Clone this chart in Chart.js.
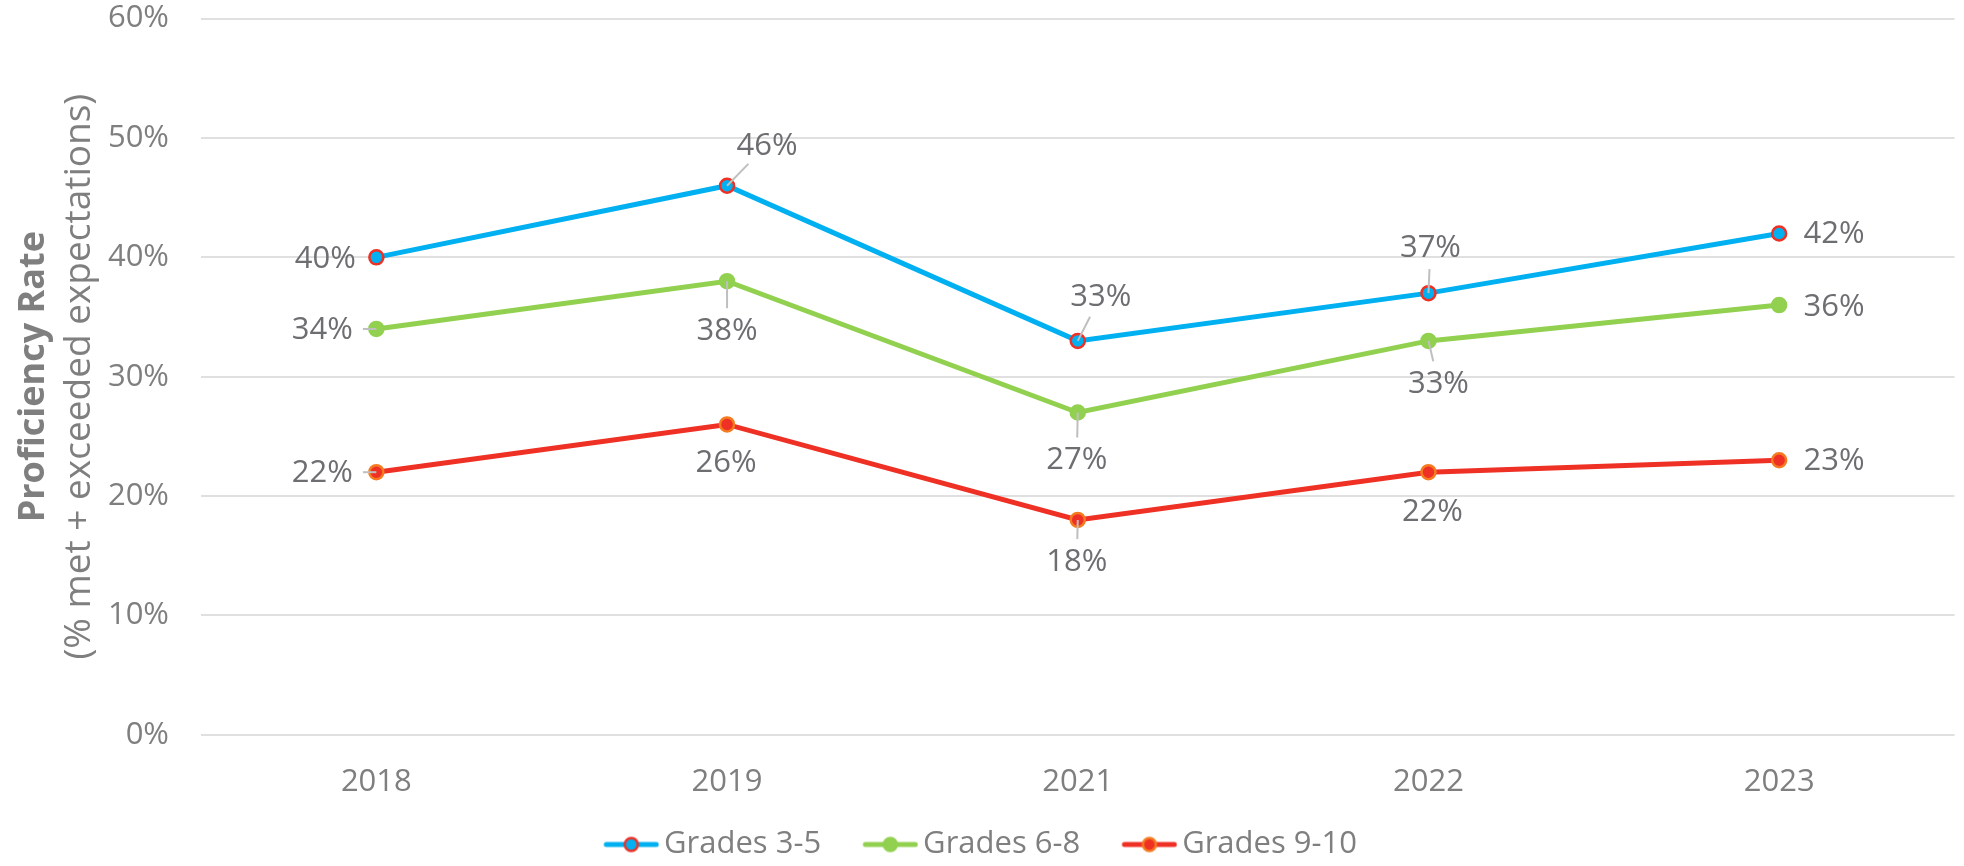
<!DOCTYPE html>
<html>
<head>
<meta charset="utf-8">
<script src="https://cdn.jsdelivr.net/npm/chart.js@4.4.1/dist/chart.umd.min.js"></script>
<style>
    html, body { margin: 0; padding: 0; background: #ffffff; }
    #wrap { width: 1964px; height: 866px; }
</style>
</head>
<body>
<div id="wrap"><canvas id="proficiencyChart" width="1964" height="866"></canvas></div>
<script>
// ---------------------------------------------
// data
// ---------------------------------------------
var years = ["2018", "2019", "2021", "2022", "2023"];
var grades35 = [40, 46, 33, 37, 42];
var grades68 = [34, 38, 27, 33, 36];
var grades910 = [22, 26, 18, 22, 23];
var seriesNames = ["Grades 3-5", "Grades 6-8", "Grades 9-10"];

// where each value label sits, relative to its point [dx, dy]
var labelOffsets = [
    [[-51, 1], [40, -41], [23, -45], [2, -46], [55, 0]],
    [[-54, 0], [0, 49], [-1, 47], [10, 42], [55, 1]],
    [[-54, 0], [-1, 38], [-1, 41], [4, 39], [55, 0]]
];
var leaderLines = [
    [false, true, true, true, false],
    [true, true, true, true, false],
    [true, false, true, false, false]
];

var FONT = "'Open Sans', 'DejaVu Sans', sans-serif";
var GREY = "#7f7f7f";

var lineColors = ["#00b0f0", "#92d050", "#ee3124"];
var markerFill = ["#00b0f0", "#92d050", "#ee3124"];
var markerBorder = ["#ee3124", "#92d050", "#f47b20"];

// legend box geometry (swatch drawn at the right end of a wider image)
var LEGEND_BOX = 62.5;
var SWATCH_W = 56;
var IMAGE_W = 84;

// small line + marker picture for the legend
function legendSwatch(i) {
    var c = document.createElement("canvas");
    c.width = IMAGE_W;
    c.height = 18;
    var g = c.getContext("2d");
    var x0 = IMAGE_W - SWATCH_W;
    g.strokeStyle = lineColors[i];
    g.lineWidth = 5;
    g.lineCap = "round";
    g.beginPath();
    g.moveTo(x0 + 3, 9);
    g.lineTo(x0 + SWATCH_W - 3, 9);
    g.stroke();
    g.beginPath();
    g.arc(x0 + SWATCH_W / 2, 9, 6.5, 0, Math.PI * 2);
    g.fillStyle = markerFill[i];
    g.fill();
    g.lineWidth = 2.5;
    g.strokeStyle = markerBorder[i];
    g.stroke();
    return c;
}

// nudge the legend row (the blank part of the first image pushes it right)
var legendNudge = {
    id: "legendNudge",
    afterLayout: function(chart) {
        var lg = chart.legend;
        if (!lg) return;
        lg.left -= 9;
        lg.right -= 9;
        lg.top += 4;
        lg.bottom += 4;
    }
};

// value labels with leader lines
var valueLabels = {
    id: "valueLabels",
    afterDatasetsDraw: function(chart) {
        var ctx = chart.ctx;
        ctx.save();
        ctx.font = "31px " + FONT;
        ctx.textAlign = "center";
        ctx.textBaseline = "middle";
        chart.data.datasets.forEach(function(ds, di) {
            var meta = chart.getDatasetMeta(di);
            meta.data.forEach(function(pt, i) {
                var off = labelOffsets[di][i];
                var lx = pt.x + off[0];
                var ly = pt.y + off[1];
                var text = ds.data[i] + "%";
                var w = ctx.measureText(text).width;

                if (leaderLines[di][i]) {
                    var vx = pt.x - lx;
                    var vy = pt.y - ly;
                    var len = Math.sqrt(vx * vx + vy * vy);
                    var ux = vx / len, uy = vy / len;
                    var tx = Math.abs(ux) > 0.001 ? (w / 2) / Math.abs(ux) : 1e9;
                    var ty = Math.abs(uy) > 0.001 ? 12 / Math.abs(uy) : 1e9;
                    var t = Math.min(tx, ty) + 10;
                    ctx.beginPath();
                    ctx.moveTo(lx + ux * t, ly + uy * t);
                    ctx.lineTo(pt.x, pt.y);
                    ctx.strokeStyle = "#bfbfbf";
                    ctx.lineWidth = 2;
                    ctx.stroke();
                }

                ctx.fillStyle = "#6d6e71";
                ctx.fillText(text, lx, ly + 1);
            });
        });
        ctx.restore();
    }
};

// two-line y axis title, first line bold
var axisTitle = {
    id: "axisTitle",
    afterDraw: function(chart) {
        var ctx = chart.ctx;
        var area = chart.chartArea;
        var cy = (area.top + area.bottom) / 2;
        ctx.save();
        ctx.fillStyle = GREY;
        ctx.textAlign = "center";
        ctx.textBaseline = "middle";

        ctx.save();
        ctx.translate(34, cy);
        ctx.rotate(-Math.PI / 2);
        ctx.font = "bold 36px " + FONT;
        ctx.fillText("Proficiency Rate", 0, 0);
        ctx.restore();

        ctx.save();
        ctx.translate(79, cy);
        ctx.rotate(-Math.PI / 2);
        ctx.font = "37px " + FONT;
        ctx.fillText("(% met + exceeded expectations)", 0, 0);
        ctx.restore();

        ctx.restore();
    }
};

function makeDataset(i, values) {
    return {
        label: seriesNames[i],
        data: values,
        borderColor: lineColors[i],
        backgroundColor: lineColors[i],
        borderWidth: 5,
        pointRadius: 7,
        pointHoverRadius: 7,
        pointBorderWidth: 2.5,
        pointBackgroundColor: markerFill[i],
        pointBorderColor: markerBorder[i],
        tension: 0
    };
}

function drawChart() {
    var swatches = [legendSwatch(0), legendSwatch(1), legendSwatch(2)];
    var ctx = document.getElementById("proficiencyChart");

    new Chart(ctx, {
        type: "line",
        data: {
            labels: years,
            datasets: [
                makeDataset(0, grades35),
                makeDataset(1, grades68),
                makeDataset(2, grades910)
            ]
        },
        options: {
            responsive: false,
            animation: false,
            layout: { padding: { top: 0, right: 3, bottom: 0, left: 0 } },
            plugins: {
                tooltip: { enabled: false },
                legend: {
                    position: "bottom",
                    labels: {
                        font: { size: 31, family: FONT },
                        color: GREY,
                        usePointStyle: true,
                        pointStyleWidth: LEGEND_BOX,
                        padding: 24,
                        generateLabels: function(chart) {
                            return chart.data.datasets.map(function(ds, i) {
                                return {
                                    text: ds.label,
                                    pointStyle: swatches[i],
                                    fillStyle: lineColors[i],
                                    strokeStyle: lineColors[i],
                                    lineWidth: 0,
                                    fontColor: GREY,
                                    datasetIndex: i,
                                    hidden: false
                                };
                            });
                        }
                    }
                }
            },
            scales: {
                x: {
                    offset: true,
                    grid: {
                        display: false,
                        drawTicks: true,
                        tickLength: 29
                    },
                    border: { display: false },
                    ticks: {
                        font: { size: 31, family: FONT },
                        color: GREY,
                        padding: 0,
                        maxRotation: 0
                    }
                },
                y: {
                    min: 0,
                    max: 60,
                    afterFit: function(scale) {
                        scale.width = 201;
                    },
                    grid: {
                        color: "#e0e0e0",
                        lineWidth: 2,
                        drawTicks: true,
                        tickLength: 32,
                        tickColor: "rgba(0,0,0,0)"
                    },
                    border: { display: false },
                    ticks: {
                        stepSize: 10,
                        font: { size: 31, family: FONT },
                        color: GREY,
                        padding: 0,
                        callback: function(v) {
                            return v + "%";
                        }
                    }
                }
            }
        },
        plugins: [legendNudge, valueLabels, axisTitle]
    });
}

Promise.all([
    document.fonts.load("31px 'Open Sans'"),
    document.fonts.load("bold 36px 'Open Sans'")
]).then(drawChart, drawChart);
</script>
</body>
</html>
